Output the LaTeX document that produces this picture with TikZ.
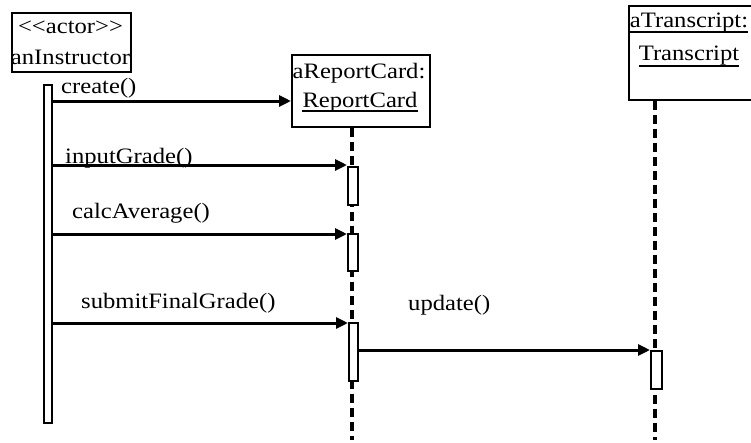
\documentclass[tikz,border=0pt]{standalone}
\usepackage{fontspec}
\setmainfont{Liberation Serif}[FakeStretch=1.12]
\usetikzlibrary{arrows.meta}
\begin{document}
\begin{tikzpicture}[x=1pt,y=-1pt,
  objbox/.style={draw, line width=1.5pt, fill=white, inner sep=0pt, anchor=north west},
  actbox/.style={draw, line width=1.5pt, fill=white, inner sep=0pt, anchor=north west},
  lifeline/.style={line width=3.2pt, dash pattern=on 9pt off 5pt},
  msg/.style={line width=3pt, -{Triangle[length=12pt,width=11pt]}},
  txt/.style={font=\fontsize{22}{24}\selectfont, inner sep=0pt, anchor=base},
  lbl/.style={font=\fontsize{22}{24}\selectfont, inner sep=0pt, anchor=base west},
  uline/.style={line width=1.2pt}]
\useasboundingbox (0,0) rectangle (751,442);

% object boxes
\node[objbox, minimum width=119pt, minimum height=59pt] (actor) at (11,12) {};
\node[objbox, minimum width=138pt, minimum height=72pt] (rc) at (291,54) {};
\node[objbox, minimum width=124pt, minimum height=94pt] (tr) at (628,5) {};

% box texts
\node[txt] (actorA) at (70.5,33) {<{}<actor>{}>};
\node[txt] (actorB) at (70.5,64) {anInstructor};
\node[txt] (rcA) at (359,78) {aReportCard:};
\node[txt] (rcB) at (360,107) {ReportCard};
\draw[uline] ([yshift=-4pt]rcB.base west) -- ([yshift=-4pt]rcB.base east);
\node[txt] (trA) at (689,27) {aTranscript:};
\node[txt] (trB) at (689,60) {Transcript};
\draw[uline] ([yshift=-5pt]trA.base west) -- ([yshift=-5pt]trA.base east);
\draw[uline] ([yshift=-6pt]trB.base west) -- ([yshift=-6pt]trB.base east);

% lifelines
\coordinate (rcEnd) at (352,440);
\coordinate (trEnd) at (655,440);
\draw[lifeline] (rc.south -| rcEnd) -- (rcEnd);
\draw[lifeline] (tr.south -| trEnd) -- (trEnd);

% activations
\node[actbox, minimum width=8pt, minimum height=338pt] (actorAct) at (43,84) {};
\node[actbox, minimum width=10pt, minimum height=38pt] (rcAct1) at (347,166) {};
\node[actbox, minimum width=10pt, minimum height=37pt] (rcAct2) at (347,233) {};
\node[actbox, minimum width=9pt, minimum height=58pt] (rcAct3) at (348,322) {};
\node[actbox, minimum width=11pt, minimum height=38pt] (trAct) at (650,350) {};

% messages
\draw[msg] (actorAct.east |- 0,101) -- (rc.west |- 0,101);
\draw[msg] (actorAct.east |- 0,165) -- (rcAct1.west |- 0,165);
\draw[msg] (actorAct.east |- 0,234) -- (rcAct2.west |- 0,234);
\draw[msg] (actorAct.east |- 0,323) -- (rcAct3.west |- 0,323);
\draw[msg] (rcAct3.east |- 0,350) -- (trAct.west |- 0,350);

% message labels
\node[lbl] (l1) at (61,93) {create()};
\node[lbl] (l2) at (65,163) {inputGrade()};
\node[lbl] (l3) at (72,218) {calcAverage()};
\node[lbl] (l4) at (81,308) {submitFinalGrade()};
\node[lbl] (l5) at (408,310) {update()};
\end{tikzpicture}
\end{document}
